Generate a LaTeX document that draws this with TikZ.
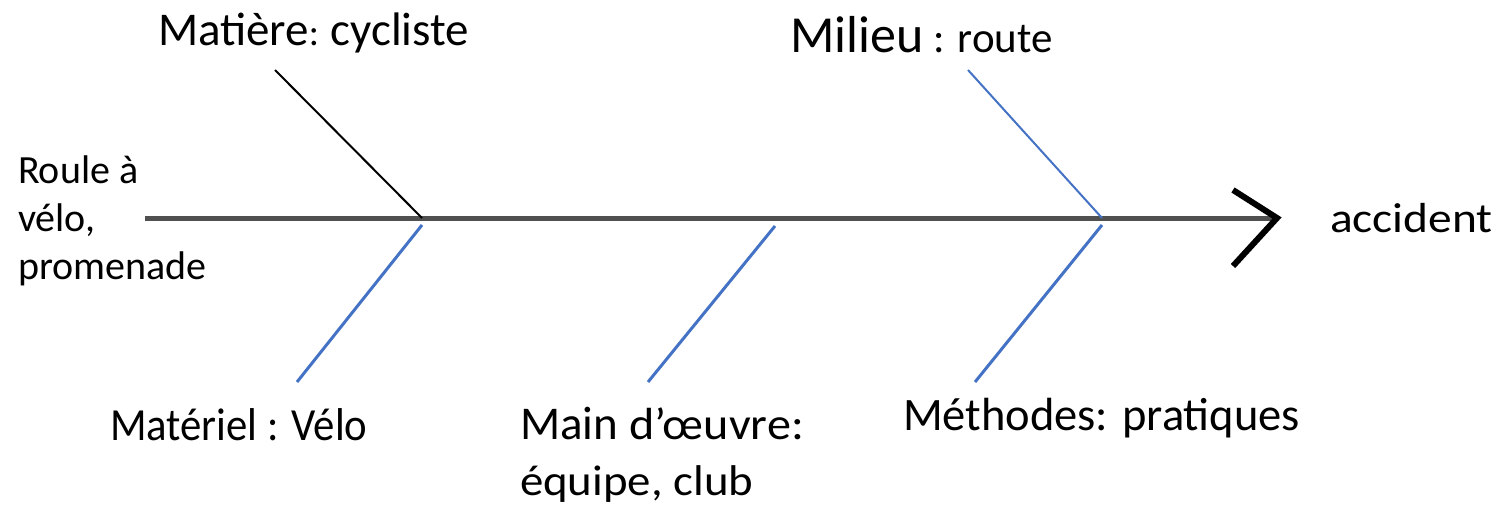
\documentclass[tikz,border=0pt]{standalone}
\usepackage{fontspec}
\setmainfont{Carlito}
\newcommand{\fsz}[1]{\fontsize{#1}{48}\selectfont}
\newcommand{\wide}[1]{\addfontfeature{FakeStretch=#1}}
\definecolor{bluebr}{HTML}{4472C4}
\definecolor{spinegray}{HTML}{505050}
\begin{document}
\begin{tikzpicture}[x=1pt,y=-1pt,
  lbl/.style={anchor=base west,inner sep=0pt,outer sep=0pt,align=left},
  spine/.style={draw=spinegray,line width=5pt},
  blk/.style={draw=black,line width=2pt},
  blu/.style={draw=bluebr,line width=3pt},
  bluthin/.style={draw=bluebr,line width=2pt},
  chev/.style={draw=black,line width=6pt,line join=miter}]
\useasboundingbox (0,0) rectangle (1498,505);
% spine coordinates
\coordinate (s0) at (145,218);
\coordinate (s1) at (1277,218);
\coordinate (j1) at (422,218);
\coordinate (j1b) at (422,225);
\coordinate (j2b) at (775,226);
\coordinate (j3) at (1102,218);
\coordinate (j3b) at (1102,225);
\coordinate (e1) at (275,70);
\coordinate (e2) at (297,382);
\coordinate (e3) at (648,382);
\coordinate (e4) at (968,70);
\coordinate (e5) at (975,382);
\coordinate (c1) at (1233,190);
\coordinate (c2) at (1233,266);
% spine
\draw[spine] (s0) -- (s1);
\draw[chev] (c1) -- (s1) -- (c2);
% branches
\draw[blk] (e1) -- (j1);
\draw[blu] (j1b) -- (e2);
\draw[blu] (j2b) -- (e3);
\draw[bluthin] (e4) -- (j3);
\draw[blu] (j3b) -- (e5);
% labels
\node[lbl] (matiere) at (158,46) {\fsz{47}Matière{\fsz{38}: }cycliste};
\node[lbl] (milieu) at (790,53) {\fsz{52}Milieu{\fsz{43}\ : route}};
\node[lbl,font=\fsz{40}] (start) at (18,279) {Roule à\\vélo,\\promenade};
\node[lbl] (accident) at (1330,232) {\fsz{42}\wide{1.13}accident};
\node[lbl] (materiel) at (110,440) {\fsz{46}\wide{0.93}Matériel : Vélo};
\node[lbl] (main) at (520,439) {\fsz{47}Main{\fsz{45}\wide{1.07}\ d’œuvre:}};
\node[lbl] (equipe) at (520,495) {\fsz{43}\wide{1.09}équipe, club};
\node[lbl] (methodes) at (903,430) {\fsz{46.5}Méthodes: pratiques};
\end{tikzpicture}
\end{document}
